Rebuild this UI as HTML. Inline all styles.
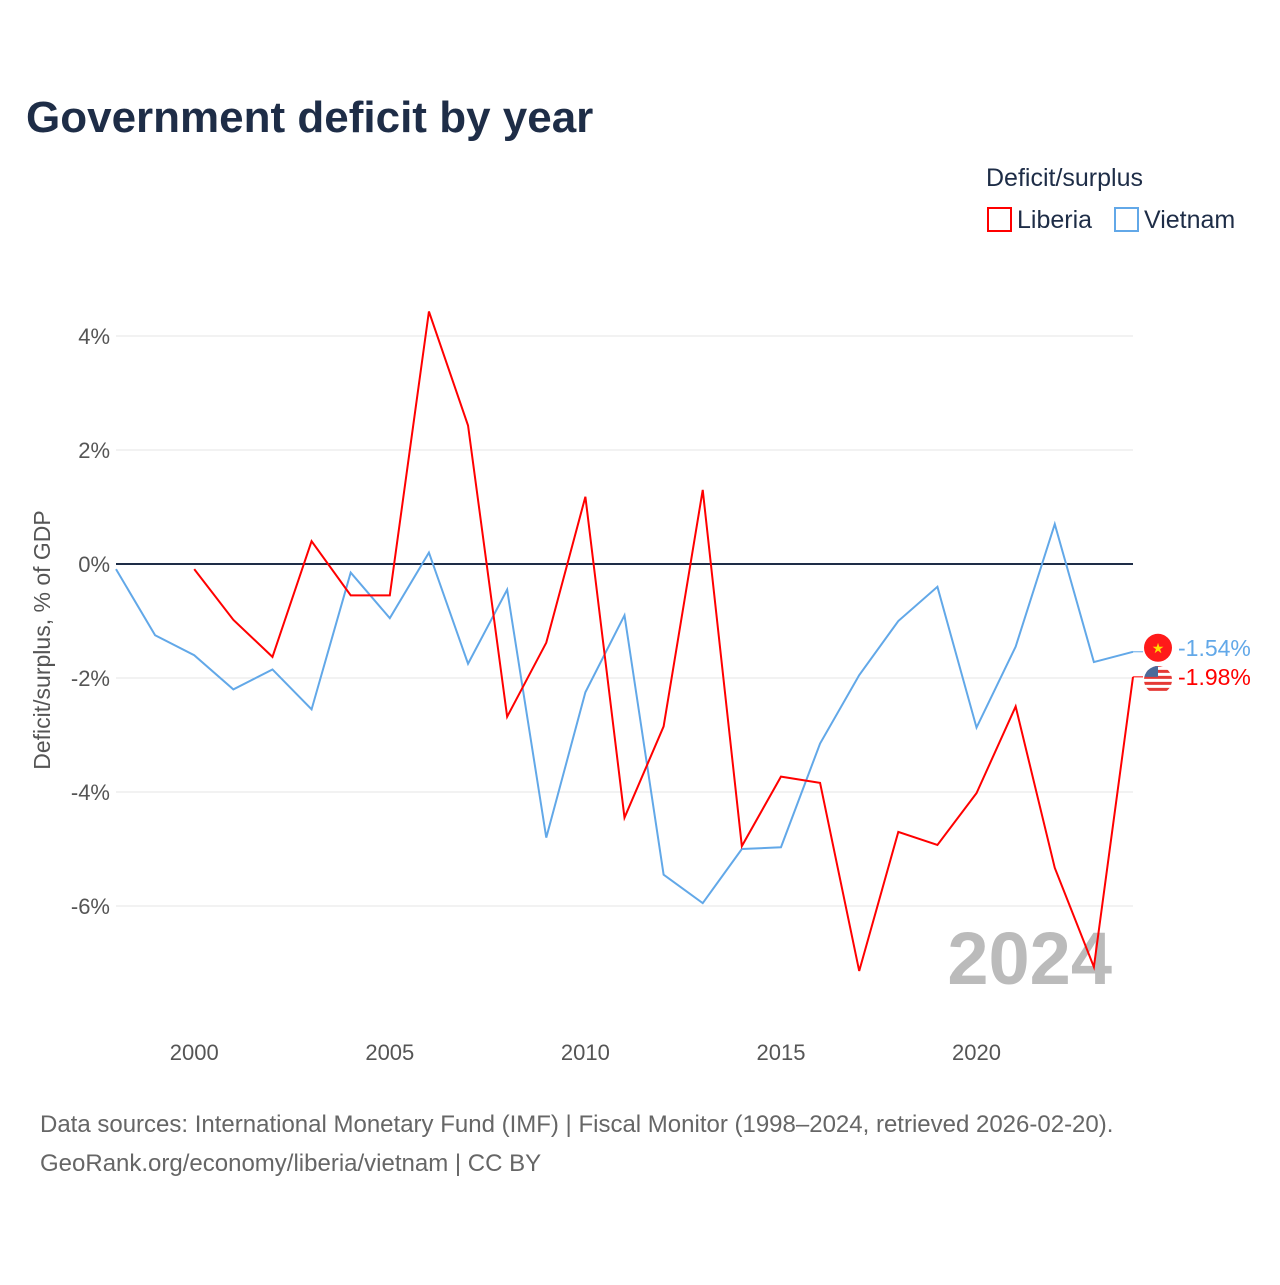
<!DOCTYPE html>
<html><head><meta charset="utf-8">
<style>
body{margin:0;background:#fff;font-family:"Liberation Sans",sans-serif;}
svg text{font-family:"Liberation Sans",sans-serif;}
</style></head>
<body>
<svg id="chart" width="1280" height="1280" viewBox="0 0 1280 1280">
<defs><clipPath id="lrclip"><circle cx="1158" cy="680" r="14"/></clipPath></defs>
<rect width="1280" height="1280" fill="#fff"/>
<text x="26" y="132" font-size="44" font-weight="bold" fill="#1e2d47">Government deficit by year</text>
<text x="986" y="186" font-size="25" fill="#1e2d47">Deficit/surplus</text>
<g><rect x="988" y="208" width="23" height="23" fill="none" stroke="#ff0000" stroke-width="2"/><text x="1017" y="228" font-size="25" fill="#1e2d47">Liberia</text></g>
<g><rect x="1115" y="208" width="23" height="23" fill="none" stroke="#62a8e8" stroke-width="2"/><text x="1144" y="228" font-size="25" fill="#1e2d47">Vietnam</text></g>
<g id="grid"></g>
<g id="axes"></g>
<text x="1112" y="984" font-size="74" font-weight="bold" fill="#bbbbbb" text-anchor="end">2024</text>
<g id="series"></g>
<text transform="translate(50,640) rotate(-90)" font-size="23" fill="#555" text-anchor="middle">Deficit/surplus, % of GDP</text>
<text x="40" y="1132" font-size="24" fill="#666">Data sources: International Monetary Fund (IMF) | Fiscal Monitor (1998–2024, retrieved 2026-02-20).</text>
<text x="40" y="1171" font-size="24" fill="#666">GeoRank.org/economy/liberia/vietnam | CC BY</text>
</svg>
<script>
const yearsVietnam=[1998,1999,2000,2001,2002,2003,2004,2005,2006,2007,2008,2009,2010,2011,2012,2013,2014,2015,2016,2017,2018,2019,2020,2021,2022,2023,2024];
const valuesVietnam=[-0.09,-1.25,-1.6,-2.2,-1.85,-2.55,-0.15,-0.95,0.2,-1.75,-0.45,-4.8,-2.25,-0.9,-5.45,-5.95,-5.0,-4.97,-3.15,-1.95,-1.0,-0.4,-2.87,-1.45,0.7,-1.72,-1.54];
const yearsLiberia=[2000,2001,2002,2003,2004,2005,2006,2007,2008,2009,2010,2011,2012,2013,2014,2015,2016,2017,2018,2019,2020,2021,2022,2023,2024];
const valuesLiberia=[-0.09,-0.98,-1.63,0.4,-0.55,-0.55,4.43,2.43,-2.68,-1.38,1.18,-4.45,-2.85,1.3,-4.95,-3.73,-3.84,-7.14,-4.7,-4.93,-4.02,-2.5,-5.33,-7.07,-1.98];
const yTicks=[4,2,0,-2,-4,-6];
const xTicks=[2000,2005,2010,2015,2020];
const NS='http://www.w3.org/2000/svg';
const xs=y=>116+(y-1998)*(1133-116)/26;
const ys=v=>564-v*57;
function mk(tag,attrs,parent){const e=document.createElementNS(NS,tag);for(const k in attrs)e.setAttribute(k,attrs[k]);parent.appendChild(e);return e;}
const grid=document.getElementById('grid'),axes=document.getElementById('axes'),series=document.getElementById('series');
yTicks.forEach(t=>{
  const l=mk('line',{x1:116,x2:1133,y1:ys(t),y2:ys(t),stroke:t===0?'#1e2d47':'#e5e5e5','stroke-width':t===0?2:1},grid);
  
  
  const tx=mk('text',{x:110,y:ys(t)+8,'font-size':22,fill:'#555','text-anchor':'end'},axes);
  tx.textContent=t+'%';
  
  
});
xTicks.forEach(t=>{
  const tx=mk('text',{x:xs(t),y:1060,'font-size':22,fill:'#555','text-anchor':'middle'},axes);
  tx.textContent=t;
  
  
});
function line(years,vals,color,name){
  const p=mk('polyline',{points:years.map((y,i)=>xs(y)+','+ys(vals[i])).join(' '),fill:'none',stroke:color,'stroke-width':2},series);
  
  
}
line(yearsVietnam,valuesVietnam,'#62a8e8','vietnam-line');
line(yearsLiberia,valuesLiberia,'#ff0000','liberia-line');
function endLabel(years,vals,color,name,flag,dy){
  const v=vals[vals.length-1],y0=ys(v),x=xs(years[years.length-1]);
  const y=y0+dy;
  mk('line',{x1:x,x2:x+10,y1:y0,y2:y0,stroke:color,'stroke-width':1},series);
  const g=mk('g',{},series);
  
  
  if(flag==='vn'){mk('circle',{cx:x+25,cy:y,r:14,fill:'#ff1a1a'},g);const s=mk('text',{x:x+25,y:y+5,'font-size':14,fill:'#ffdd00','text-anchor':'middle'},g);s.textContent='★';}
  else{const c=mk('g',{'clip-path':'url(#lrclip)'},g);mk('circle',{cx:x+25,cy:y,r:14,fill:'#fff'},c);for(let i=0;i<5;i++)mk('rect',{x:x+11,y:y-13+i*6,width:28,height:3,fill:'#e53935'},c);mk('rect',{x:x+11,y:y-14,width:14,height:14,fill:'#4a6a9a'},c);}
  const t=mk('text',{x:x+45,y:y+8,'font-size':23,fill:color},series);
  t.textContent=v.toFixed(2)+'%';
  
  
}
endLabel(yearsVietnam,valuesVietnam,'#62a8e8','vietnam','vn',-4);
endLabel(yearsLiberia,valuesLiberia,'#ff0000','liberia','lr',0);
</script>
</body></html>
